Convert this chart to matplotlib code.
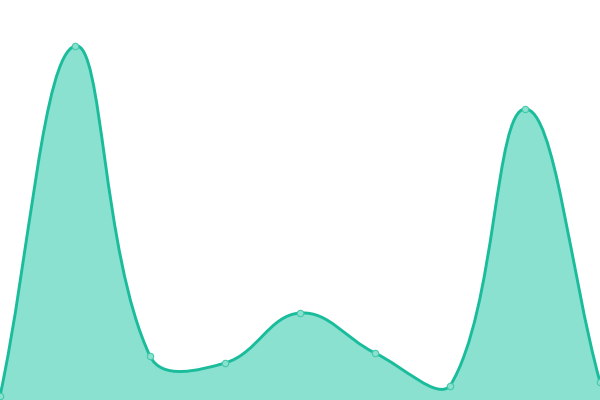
import matplotlib
matplotlib.use('Agg')
import matplotlib.pyplot as plt
from matplotlib.path import Path
from matplotlib.patches import PathPatch
import numpy as np

# data (y axis runs 0..400)
categories = list(range(9))
values = [4, 354, 44, 37, 87, 47, 14, 291, 18]

line_color = '#1abc9c'
fill_color = '#8ae1cf'


def spline_path(ax, xs, ys, tension=0.4):
    # chart.js style spline, worked out in pixels, control points kept inside the plot area
    pts = ax.transData.transform(np.column_stack([xs, ys]))
    box = ax.bbox
    n = len(pts)
    cps = []
    for i in range(n):
        p = pts[i]
        prev = pts[i - 1] if i > 0 else p
        nxt = pts[i + 1] if i < n - 1 else p
        d01 = np.hypot(*(p - prev))
        d12 = np.hypot(*(nxt - p))
        tot = d01 + d12
        s01 = d01 / tot if tot else 0
        s12 = d12 / tot if tot else 0
        c0 = p - tension * s01 * (nxt - prev)
        c1 = p + tension * s12 * (nxt - prev)
        for c in (c0, c1):
            c[0] = min(max(c[0], box.x0), box.x1)
            c[1] = min(max(c[1], box.y0), box.y1)
        cps.append((c0, c1))
    verts = [pts[0]]
    codes = [Path.MOVETO]
    for i in range(n - 1):
        verts += [cps[i][1], cps[i + 1][0], pts[i + 1]]
        codes += [Path.CURVE4] * 3
    verts = ax.transData.inverted().transform(np.array(verts))
    return verts, codes


fig = plt.figure(figsize=(6, 4), dpi=100)
ax = fig.add_axes([0, 0, 1, 1])
ax.set_xlim(0, 8)
ax.set_ylim(0, 400)
ax.axis('off')

verts, codes = spline_path(ax, categories, values)

# area under the curve
area_verts = np.vstack([verts, [[categories[-1], 0], [categories[0], 0], verts[0]]])
area_codes = codes + [Path.LINETO, Path.LINETO, Path.CLOSEPOLY]
ax.add_patch(PathPatch(Path(area_verts, area_codes), facecolor=fill_color,
                       edgecolor='none', zorder=1))
ax.add_patch(PathPatch(Path(verts, codes), facecolor='none',
                       edgecolor=line_color, lw=2.1, zorder=2))

ax.plot(categories, values, 'o', ms=4.6, mfc=fill_color, mec='#45c9ab',
        mew=0.8, zorder=3, clip_on=False)

fig.savefig('out.png', dpi=100)
